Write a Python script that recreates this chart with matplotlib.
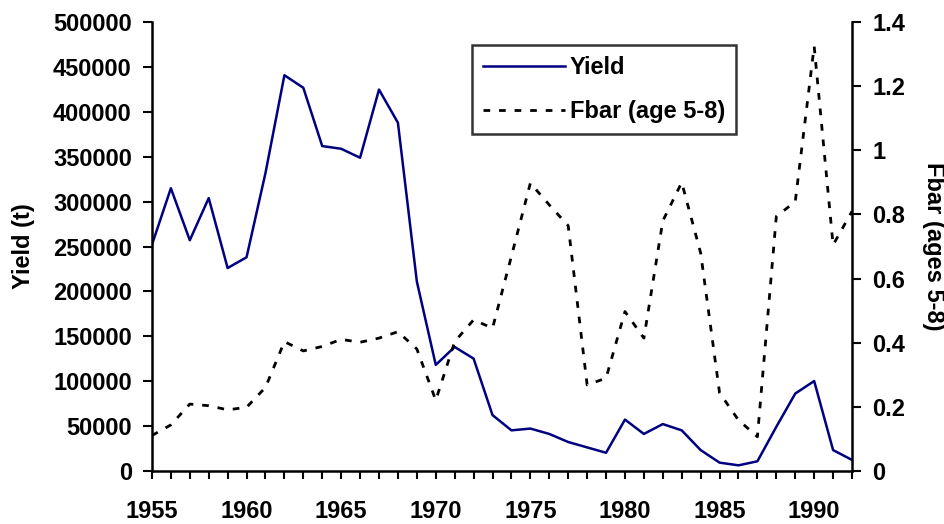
import matplotlib
matplotlib.use("Agg")
import matplotlib.pyplot as plt
from matplotlib.ticker import MultipleLocator

years = list(range(1955, 1993))
yield_t = [252000, 315000, 257000, 304000, 226000, 238000, 332000, 441000,
           427000, 362000, 359000, 349000, 425000, 388000, 211000, 118000,
           138000, 125000, 62000, 45000, 47000, 41000, 32000, 26000,
           20000, 57000, 41000, 52000, 45000, 23000, 9000, 6000,
           10500, 49000, 86000, 100000, 23000, 12000]
fbar = [0.11, 0.143, 0.208, 0.203, 0.19, 0.198, 0.26, 0.403,
        0.374, 0.388, 0.41, 0.401, 0.414, 0.434, 0.38, 0.22,
        0.403, 0.471, 0.445, 0.67, 0.898, 0.83, 0.765, 0.268,
        0.289, 0.497, 0.414, 0.78, 0.9, 0.68, 0.243, 0.158,
        0.106, 0.794, 0.84, 1.325, 0.705, 0.81]

plt.rcParams["font.family"] = ["Liberation Sans", "DejaVu Sans"]
plt.rcParams["font.weight"] = "bold"
fs = 17

fig = plt.figure(figsize=(9.45, 5.24), dpi=100)
ax = fig.add_axes([0.1608, 0.1017, 0.7408, 0.8557])
ax2 = ax.twinx()

l1, = ax.plot(years, yield_t, color="#000080", lw=1.8, label="Yield")
l2, = ax2.plot(years, fbar, color="black", lw=2.0, dashes=(2.4, 3.2),
               label="Fbar (age 5-8)")

ax.set_xlim(1955, 1992)
ax.set_ylim(0, 500000)
ax2.set_ylim(0, 1.4)
ax.xaxis.set_major_locator(MultipleLocator(5))
ax.xaxis.set_minor_locator(MultipleLocator(1))
ax.yaxis.set_major_locator(MultipleLocator(50000))
ax2.set_yticks([0, 0.2, 0.4, 0.6, 0.8, 1.0, 1.2, 1.4])
ax2.set_yticklabels(["0", "0.2", "0.4", "0.6", "0.8", "1", "1.2", "1.4"])

for a in (ax, ax2):
    for s in a.spines.values():
        s.set_linewidth(1.8)
    a.spines["top"].set_visible(False)
ax.spines["right"].set_visible(False)
ax2.spines["left"].set_visible(False)
ax2.spines["bottom"].set_visible(False)

ax.tick_params(axis="x", which="both", direction="out", length=6, width=1.5,
               pad=15, labelsize=fs)
ax.tick_params(axis="y", direction="out", length=6.5, width=1.5, pad=8,
               labelsize=fs)
ax2.tick_params(axis="y", direction="out", length=6.5, width=1.5, pad=8,
                labelsize=fs)

ax.set_ylabel("Yield (t)", fontsize=fs, fontweight="bold", va="center")
ax.yaxis.set_label_coords(-0.183, 0.5)
ax2.set_ylabel("Fbar (ages 5-8)", fontsize=fs, fontweight="bold",
               rotation=270, va="center")
ax2.yaxis.set_label_coords(1.116, 0.5)

leg = ax.legend(handles=[l1, l2], loc="upper left",
                bbox_to_anchor=(0.457, 0.949), fontsize=fs, frameon=True,
                fancybox=False, edgecolor="black", handlelength=3.5,
                handletextpad=0.2, borderpad=0.45, labelspacing=0.9,
                borderaxespad=0)
leg.get_frame().set_linewidth(1.8)

fig.savefig("out.png", dpi=100)
